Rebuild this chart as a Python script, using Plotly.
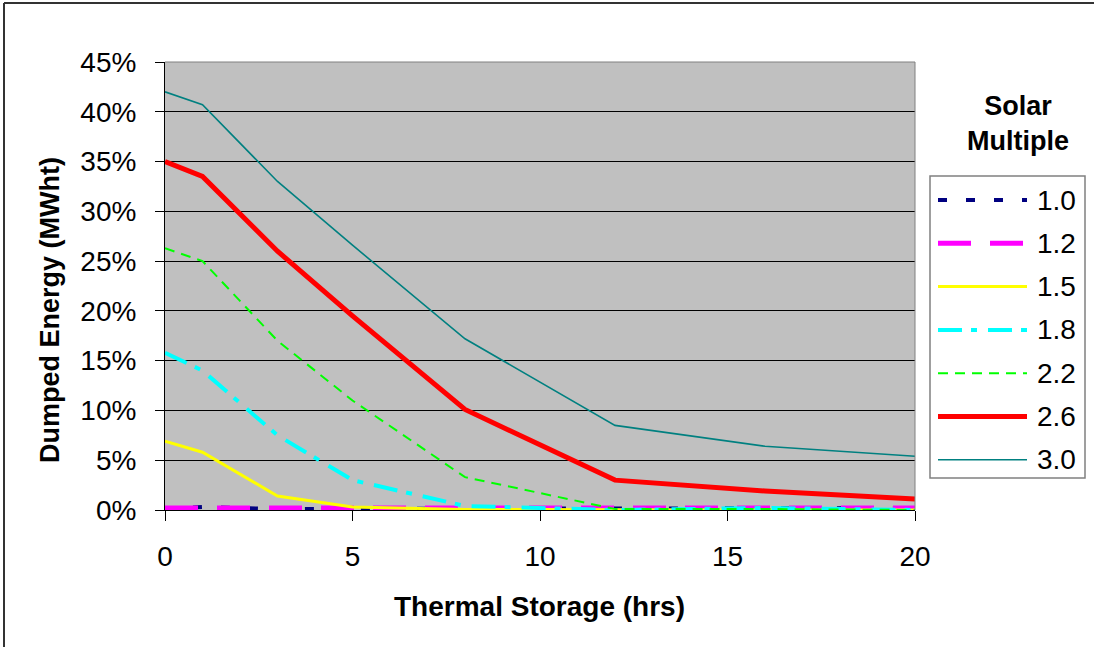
import plotly.graph_objects as go

# ---- data ----
storage_hrs = [0, 1, 3, 5, 8, 12, 16, 20]
sm_names = ["1.0", "1.2", "1.5", "1.8", "2.2", "2.6", "3.0"]
sm_1_0 = [0.001, 0.003, 0.001, 0.001, 0.001, 0.001, 0.001, 0.002]
sm_1_2 = [0.002, 0.002, 0.0015, 0.002, 0.0015, 0.002, 0.002, 0.002]
sm_1_5 = [0.069, 0.058, 0.014, 0.003, 0.0005, 0.0, 0.0, 0.0]
sm_1_8 = [0.158, 0.140, 0.075, 0.030, 0.004, 0.0, 0.002, 0.0]
sm_2_2 = [0.263, 0.250, 0.170, 0.110, 0.033, 0.001, 0.001, 0.0]
sm_2_6 = [0.350, 0.335, 0.260, 0.195, 0.101, 0.030, 0.019, 0.011]
sm_3_0 = [0.420, 0.407, 0.330, 0.266, 0.172, 0.085, 0.064, 0.054]
y_ticks = [0, 0.05, 0.10, 0.15, 0.20, 0.25, 0.30, 0.35, 0.40, 0.45]
x_ticks = [0, 5, 10, 15, 20]

series = [sm_1_0, sm_1_2, sm_1_5, sm_1_8, sm_2_2, sm_2_6, sm_3_0]
styles = [
    dict(color="#000080", width=4, dash="9px,19px"),
    dict(color="#FF00FF", width=5, dash="33px,19px"),
    dict(color="#FFFF00", width=3, dash="solid"),
    dict(color="#00FFFF", width=4, dash="24px,9px,6px,11px"),
    dict(color="#00FF00", width=2, dash="10px,7px"),
    dict(color="#FF0000", width=5, dash="solid"),
    dict(color="#008080", width=1.6, dash="solid"),
]

W, H = 1094, 647
L, R, T, B = 165, 915, 62, 510
FONT = "Liberation Sans, Arial, sans-serif"


def px(xp):
    return (xp - L) / (R - L)


def py(yp):
    return (B - yp) / (B - T)


fig = go.Figure()
for name, vals, st in zip(sm_names, series, styles):
    fig.add_trace(go.Scatter(x=storage_hrs, y=vals, mode="lines", name=name,
                             line=st, showlegend=False))

shapes = []
annotations = []

# plot area top and right edges (gray)
shapes.append(dict(type="line", xref="paper", yref="paper", x0=0, x1=1, y0=1, y1=1,
                   line=dict(color="#808080", width=1), layer="above"))
shapes.append(dict(type="line", xref="paper", yref="paper", x0=1, x1=1, y0=0, y1=1,
                   line=dict(color="#808080", width=1), layer="above"))

# outer chart border (top and left visible)
shapes.append(dict(type="line", xref="paper", yref="paper", x0=px(4), x1=px(1094),
                   y0=py(3), y1=py(3), line=dict(color="#333333", width=2)))
shapes.append(dict(type="line", xref="paper", yref="paper", x0=px(4), x1=px(4),
                   y0=py(3), y1=py(647), line=dict(color="#333333", width=2)))

# legend box
shapes.append(dict(type="rect", xref="paper", yref="paper", x0=px(930), x1=px(1085),
                   y0=py(478), y1=py(176), line=dict(color="#808080", width=1.5),
                   fillcolor="white"))
for i, (name, st) in enumerate(zip(sm_names, styles)):
    yc = 200 + i * 43.3
    shapes.append(dict(type="line", xref="paper", yref="paper", x0=px(938), x1=px(1027),
                       y0=py(yc), y1=py(yc), line=st))
    annotations.append(dict(xref="paper", yref="paper", x=px(1035), y=py(yc),
                            xanchor="left", yanchor="middle", text=name, showarrow=False,
                            font=dict(family=FONT, size=28, color="black")))

# legend title
annotations.append(dict(xref="paper", yref="paper", x=px(1018), y=py(124),
                        xanchor="center", yanchor="middle", text="<b>Solar<br>Multiple</b>",
                        showarrow=False, align="center",
                        font=dict(family=FONT, size=27, color="black")))

# axis titles
annotations.append(dict(xref="paper", yref="paper", x=px(539), y=py(606),
                        xanchor="center", yanchor="middle", text="<b>Thermal Storage (hrs)</b>",
                        showarrow=False, font=dict(family=FONT, size=28, color="black")))
annotations.append(dict(xref="paper", yref="paper", x=px(50), y=py(310),
                        xanchor="center", yanchor="middle", text="<b>Dumped Energy (MWht)</b>",
                        textangle=-90, showarrow=False,
                        font=dict(family=FONT, size=27, color="black")))

fig.update_layout(
    width=W, height=H,
    margin=dict(l=L, r=W - R, t=T, b=H - B, pad=0),
    paper_bgcolor="white",
    plot_bgcolor="#C0C0C0",
    showlegend=False,
    shapes=shapes,
    annotations=annotations,
    font=dict(family=FONT, size=28, color="black"),
)
fig.update_xaxes(range=[0, 20], tickvals=x_ticks, ticks="outside", ticklen=10,
                 tickcolor="black", tickwidth=1, showgrid=False, zeroline=False,
                 showline=True, linecolor="black", linewidth=1,
                 ticklabelstandoff=11, tickfont=dict(family=FONT, size=28, color="black"))
fig.update_yaxes(range=[0, 0.45], tickvals=y_ticks, tickformat=".0%", ticks="outside",
                 ticklen=9, tickcolor="black", tickwidth=1, showgrid=True,
                 gridcolor="black", gridwidth=1, zeroline=False,
                 showline=True, linecolor="black", linewidth=1,
                 ticklabelstandoff=13, tickfont=dict(family=FONT, size=28, color="black"))

fig.write_html("out.html")
